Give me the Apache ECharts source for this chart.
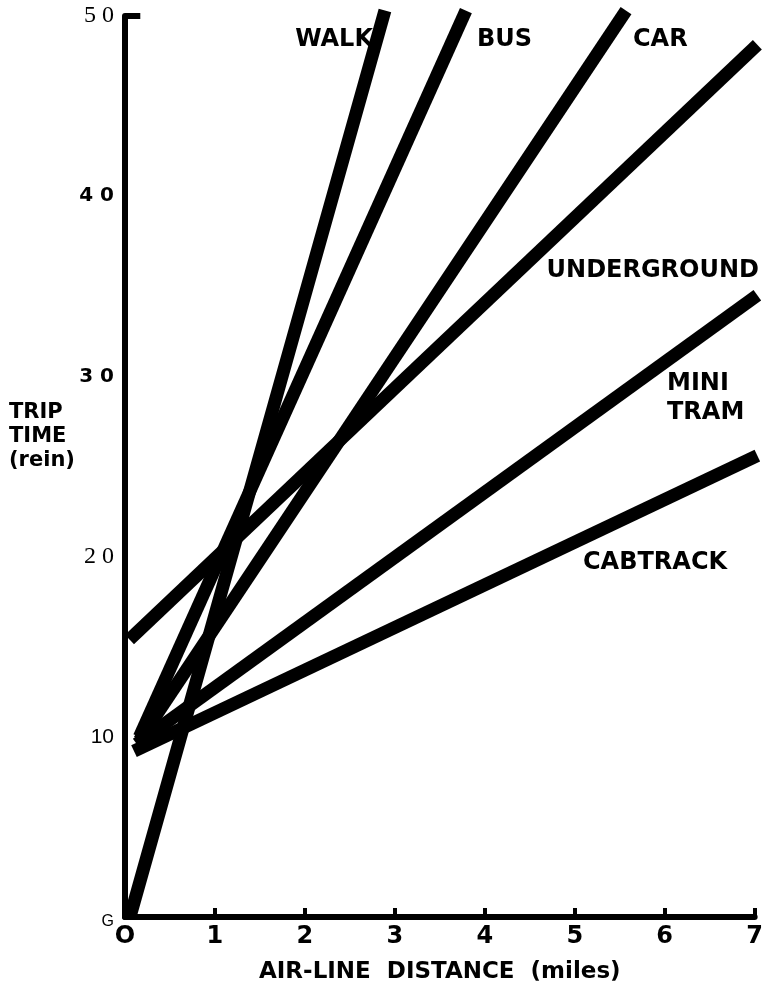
<!DOCTYPE html>
<html>
<head>
<meta charset="utf-8">
<script src="https://cdn.jsdelivr.net/npm/echarts@6/dist/echarts.min.js"></script>
<style>
  html, body { margin: 0; padding: 0; background: #fff; }
  #chart { width: 766px; height: 989px; }
</style>
</head>
<body>
<div id="chart"></div>
<script>
// axis tick labels as printed on the figure
var xTickLabels = ['O', '1', '2', '3', '4', '5', '6', '7'];
var yTickValues = [0, 10, 20, 30, 40, 50];
var yTickLabels = ['G', '10', '2 0', '3 0', '4 0', '5 0'];

// each mode: [start, end] as [miles, minutes]
var walk        = [[0.055, 0],   [2.89, 50.3]];
var bus         = [[0.16, 10.0], [3.79, 50.3]];
var car         = [[0.16, 9.8],  [5.57, 50.3]];
var underground = [[0.05, 15.4], [7.03, 48.4]];
var miniTram    = [[0.13, 9.6],  [7.03, 34.5]];
var cabtrack    = [[0.10, 9.2],  [7.03, 25.6]];

var seriesNames = ['WALK', 'BUS', 'CAR', 'UNDERGROUND', 'MINI TRAM', 'CABTRACK'];
var seriesData = [walk, bus, car, underground, miniTram, cabtrack];

var chart = echarts.init(document.getElementById('chart'));

var yStyleKey = { 'G': 'g', '10': 'r', '2 0': 's', '3 0': 'b', '4 0': 'b', '5 0': 's' };
var bold = '"DejaVu Sans", sans-serif';

var series = seriesData.map(function(d, i) {
    var s = {
        name: seriesNames[i],
        type: 'line',
        data: d,
        symbol: 'none',
        clip: false,
        silent: true,
        lineStyle: { color: '#000', width: 13, cap: 'butt' }
    };
    if (i === 0) {
        // the short stub at the top of the time axis
        s.markLine = {
            silent: true,
            symbol: 'none',
            label: { show: false },
            lineStyle: { color: '#000', width: 6, type: 'solid' },
            data: [[{ coord: [0, 50] }, { coord: [0.17, 50] }]]
        };
    }
    return s;
});

function label(text, x, y, align) {
    return {
        type: 'text', x: x, y: y, silent: true,
        style: {
            text: text, fill: '#000', align: align || 'left', verticalAlign: 'middle',
            font: 'bold 24px ' + bold
        }
    };
}

var option = {
    backgroundColor: '#fff',
    animation: false,
    grid: { left: 125, right: 3, top: 16, bottom: 71 },
    xAxis: {
        type: 'value',
        min: 0, max: 7, interval: 1,
        name: 'AIR-LINE  DISTANCE  (miles)',
        nameLocation: 'middle',
        nameGap: 44,
        nameTextStyle: { color: '#000', fontFamily: bold, fontWeight: 'bold', fontSize: 23 },
        axisLine: { lineStyle: { color: '#000', width: 6 } },
        axisTick: { inside: true, length: 9, lineStyle: { color: '#000', width: 4 } },
        splitLine: { show: false },
        axisLabel: {
            color: '#000', fontFamily: bold, fontWeight: 'bold', fontSize: 24, margin: 8,
            formatter: function(v) { return xTickLabels[Math.round(v)]; }
        }
    },
    yAxis: {
        type: 'value',
        min: 0, max: 50, interval: 10,
        axisLine: { lineStyle: { color: '#000', width: 6 } },
        axisTick: { show: false },
        splitLine: { show: false },
        axisLabel: {
            margin: 11,
            formatter: function(v) {
                var t = yTickLabels[yTickValues.indexOf(v)];
                return '{' + yStyleKey[t] + '|' + t + '}';
            },
            rich: {
                s: { color: '#000', fontFamily: '"Liberation Serif", serif', fontSize: 24 },
                b: { color: '#000', fontFamily: bold, fontWeight: 'bold', fontSize: 20 },
                r: { color: '#000', fontFamily: '"Liberation Sans", sans-serif', fontSize: 21 },
                g: { color: '#000', fontFamily: '"Liberation Sans", sans-serif', fontSize: 16, padding: [10, 0, 0, 0] }
            }
        }
    },
    graphic: [
        {
            type: 'text', x: 9, y: 401, silent: true,
            style: {
                text: 'TRIP\nTIME\n(rein)', fill: '#000', lineHeight: 24,
                font: 'bold 21px ' + bold
            }
        },
        label('WALK', 373, 40, 'right'),
        label('BUS', 477, 40),
        label('CAR', 633, 40),
        label('UNDERGROUND', 759, 271, 'right'),
        label('MINI', 667, 384),
        label('TRAM', 667, 413),
        label('CABTRACK', 583, 563)
    ],
    series: series
};

chart.setOption(option);
</script>
</body>
</html>
